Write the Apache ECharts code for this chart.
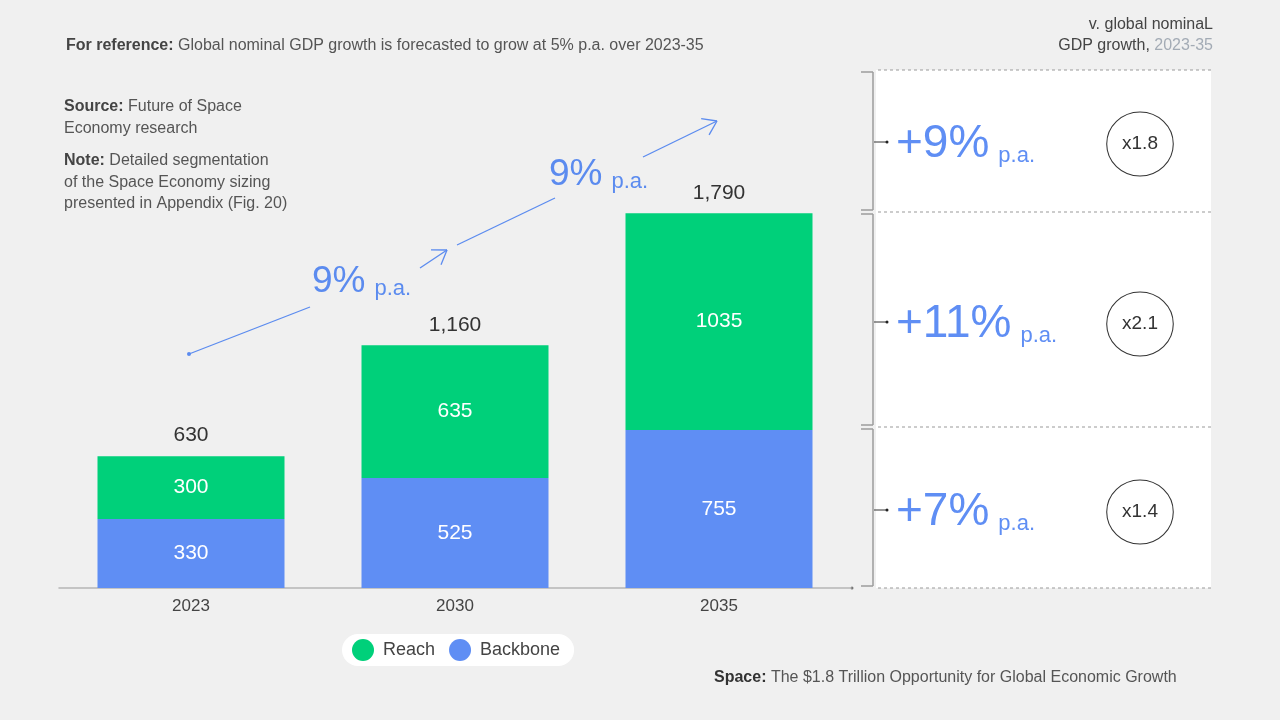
<!DOCTYPE html>
<html>
<head>
<meta charset="utf-8">
<script src="https://cdn.jsdelivr.net/npm/echarts@6/dist/echarts.min.js"></script>
<style>
  html, body { margin: 0; background: #f0f0f0; }
  #main { width: 1280px; height: 720px; }
</style>
</head>
<body>
<div id="main"></div>
<script>
// data
const years = ['2023', '2030', '2035'];
const backbone = [330, 525, 755];
const reach = [300, 635, 1035];
const totals = [630, 1160, 1790];
const growthRates = ['+9%', '+11%', '+7%'];
const multiples = ['x1.8', 'x2.1', 'x1.4'];
const cagrLabels = ['9%', '9%'];

const FONT = '"Liberation Sans", Arial, sans-serif';
const GREEN = '#00d07a';
const BLUE = '#5f8ef4';
const ARROW = '#5b8bef';

// right panel layout (pixel)
const rows = [
  { y0: 70, y1: 212, cy: 142 },
  { y0: 212, y1: 427, cy: 322 },
  { y0: 427, y1: 588, cy: 510 }
];

function txt(x, y, text, opt) {
  return {
    type: 'text', x: x, y: y, silent: true,
    style: Object.assign({ text: text, fontFamily: FONT, fontSize: 16, fill: '#555', verticalAlign: 'middle' }, opt || {})
  };
}
function line(x1, y1, x2, y2, style) {
  return { type: 'line', silent: true, shape: { x1: x1, y1: y1, x2: x2, y2: y2 }, style: Object.assign({ stroke: '#999', lineWidth: 1 }, style || {}) };
}
function arrowHead(fx, fy, tx, ty) {
  const ang = Math.atan2(ty - fy, tx - fx);
  const len = 16, spread = 0.6;
  const out = [];
  [ang + Math.PI - spread, ang + Math.PI + spread].forEach(a => {
    out.push(line(tx, ty, tx + len * Math.cos(a), ty + len * Math.sin(a), { stroke: ARROW, lineWidth: 1.3 }));
  });
  return out;
}
const bold = c => ({ b: { fontWeight: 'bold', fill: c || '#444', fontFamily: FONT, fontSize: 16 } });

const graphics = [];

// header texts
graphics.push(txt(66, 46, '{b|For reference:} Global nominal GDP growth is forecasted to grow at 5% p.a. over 2023-35', { rich: bold() }));
graphics.push(txt(1213, 25, 'v. global nominaL', { align: 'right', fill: '#444' }));
graphics.push(txt(1213, 46, 'GDP growth, {g|2023-35}', {
  align: 'right', fill: '#444',
  rich: { g: { fill: '#a3abb5', fontFamily: FONT, fontSize: 16 } }
}));
graphics.push(txt(64, 107, '{b|Source:} Future of Space', { rich: bold() }));
graphics.push(txt(64, 129, 'Economy research'));
graphics.push(txt(64, 161, '{b|Note:} Detailed segmentation', { rich: bold() }));
graphics.push(txt(64, 183, 'of the Space Economy sizing'));
graphics.push(txt(64, 204, 'presented in Appendix (Fig. 20)'));
graphics.push(txt(714, 678, '{b|Space:} The $1.8 Trillion Opportunity for Global Economic Growth', { rich: bold('#333') }));

// growth arrow across bars
const seg = { stroke: ARROW, lineWidth: 1.3 };
graphics.push({ type: 'circle', silent: true, shape: { cx: 189, cy: 354, r: 2 }, style: { fill: ARROW } });
graphics.push(line(189, 354, 310, 307, seg));
graphics.push(line(420, 268, 447, 250, seg));
graphics.push(...arrowHead(420, 268, 447, 250));
graphics.push(line(457, 245, 555, 198, seg));
graphics.push(line(643, 157, 717, 121, seg));
graphics.push(...arrowHead(643, 157, 717, 121));
const cagrPos = [[312, 280], [549, 173]];
cagrLabels.forEach((c, i) => {
  graphics.push(txt(cagrPos[i][0], cagrPos[i][1], '{a|' + c + '}{s| }{p|p.a.}', {
    fill: ARROW,
    rich: {
      a: { fontSize: 37, fill: ARROW, fontFamily: FONT, verticalAlign: 'bottom', lineHeight: 40 },
      s: { fontSize: 20, fill: ARROW, fontFamily: FONT, verticalAlign: 'bottom', lineHeight: 26, width: 9 },
      p: { fontSize: 22, fill: ARROW, fontFamily: FONT, verticalAlign: 'bottom', lineHeight: 35 }
    }
  }));
});

// right panel
graphics.push({ type: 'rect', silent: true, z: -1, shape: { x: 876, y: 70, width: 335, height: 518 }, style: { fill: '#fff' } });
[70, 212, 427, 588].forEach(y => {
  graphics.push(line(878, y, 1211, y, { stroke: '#9a9a9a', lineDash: [3, 3] }));
});
rows.forEach((r, i) => {
  const br = { stroke: '#9c9c9c', lineWidth: 1.5 };
  graphics.push(line(873, r.y0 + 2, 873, r.y1 - 2, br));
  graphics.push(line(861, r.y0 + 2, 873, r.y0 + 2, br));
  graphics.push(line(861, r.y1 - 2, 873, r.y1 - 2, br));
  graphics.push(line(874, r.cy, 887, r.cy, { stroke: '#333', lineWidth: 1 }));
  graphics.push({ type: 'circle', silent: true, shape: { cx: 887, cy: r.cy, r: 1.5 }, style: { fill: '#222' } });
  graphics.push(txt(896, r.cy + 1, '{a|' + growthRates[i] + '}{s| }{p|p.a.}', {
    fill: BLUE,
    rich: {
      a: { fontSize: 46, fill: BLUE, fontFamily: FONT, verticalAlign: 'bottom', lineHeight: 48 },
      s: { fontSize: 20, fill: BLUE, fontFamily: FONT, verticalAlign: 'bottom', lineHeight: 29, width: 9 },
      p: { fontSize: 22, fill: BLUE, fontFamily: FONT, verticalAlign: 'bottom', lineHeight: 38 }
    }
  }));
  const cy = r.cy + 2;
  graphics.push({ type: 'circle', silent: true, shape: { cx: 1140, cy: cy, r: 32 }, scaleX: 1.04, originX: 1140, originY: cy, style: { fill: 'none', stroke: '#333', lineWidth: 1 } });
  graphics.push(txt(1140, cy, multiples[i], { align: 'center', fontSize: 19, fill: '#333' }));
});
// axis end dot
graphics.push({ type: 'circle', silent: true, shape: { cx: 852, cy: 588, r: 1.5 }, style: { fill: '#777' } });

const chart = echarts.init(document.getElementById('main'));
chart.setOption({
  backgroundColor: '#f0f0f0',
  animation: false,
  textStyle: { fontFamily: FONT },
  grid: { left: 59, right: 429, top: 70, bottom: 132 },
  legend: {
    data: ['Reach', 'Backbone'],
    left: 342, top: 634,
    icon: 'circle',
    itemWidth: 22, itemHeight: 22, itemGap: 14,
    backgroundColor: '#fff', borderRadius: 16,
    padding: [5, 14, 5, 10],
    textStyle: { fontSize: 18, color: '#444', fontFamily: FONT, padding: [0, 0, 0, 4] }
  },
  xAxis: {
    type: 'category',
    data: years,
    axisLine: { lineStyle: { color: '#b5b5b5', width: 1.5 } },
    axisTick: { show: false },
    axisLabel: { fontSize: 17, color: '#444', margin: 10 }
  },
  yAxis: { type: 'value', min: 0, max: 2475, show: false, splitLine: { show: false } },
  series: [
    {
      name: 'Backbone', type: 'bar', stack: 'total', data: backbone, barWidth: 187,
      itemStyle: { color: BLUE },
      label: { show: true, position: 'inside', color: '#fff', fontSize: 21 }
    },
    {
      name: 'Reach', type: 'bar', stack: 'total', data: reach, barWidth: 187,
      itemStyle: { color: GREEN },
      label: { show: true, position: 'inside', color: '#fff', fontSize: 21 }
    },
    {
      name: 'Total', type: 'bar', stack: 'total', data: totals.map(() => 0), barWidth: 187,
      itemStyle: { color: 'transparent' },
      label: {
        show: true, position: 'top', distance: 10, color: '#333', fontSize: 21,
        formatter: p => totals[p.dataIndex].toLocaleString('en-US')
      }
    }
  ],
  graphic: graphics
});
</script>
</body>
</html>
